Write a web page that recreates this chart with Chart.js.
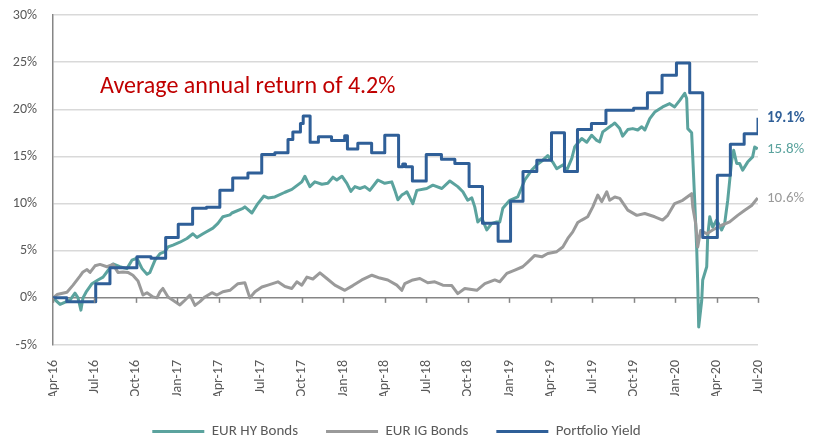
<!DOCTYPE html>
<html><head><meta charset="utf-8">
<script src="https://cdn.jsdelivr.net/npm/chart.js@4"></script>
<style>html,body{margin:0;padding:0;background:#fff}#wrap{width:817px;height:443px}</style>
</head><body><div id="wrap"><canvas id="c" width="817" height="443"></canvas></div>
<script>
// x values are months since Apr-16
const tickLabels = ['Apr-16','Jul-16','Oct-16','Jan-17','Apr-17','Jul-17','Oct-17','Jan-18','Apr-18','Jul-18','Oct-18','Jan-19','Apr-19','Jul-19','Oct-19','Jan-20','Apr-20','Jul-20'];
const seriesNames = ['EUR HY Bonds','EUR IG Bonds','Portfolio Yield'];
const endLabels = ['15.8%','10.6%','19.1%'];
const annotationText = 'Average annual return of 4.2%';

const hyX = [0,0.51,1.23,1.59,1.81,2.02,2.17,2.39,2.82,3.25,3.62,3.98,4.34,4.84,5.35,5.71,6.07,6.44,6.8,7.01,7.38,7.74,8.1,8.32,8.68,9.18,9.69,10.12,10.41,10.85,11.57,11.93,12.29,12.8,12.94,13.74,13.88,14.39,14.82,15.26,15.55,16.05,16.78,17.28,17.64,18.0,18.22,18.58,18.94,19.45,19.88,20.25,20.53,20.9,21.26,21.55,21.84,22.2,22.56,22.92,23.5,24.0,24.51,24.73,24.95,25.23,25.45,25.6,26.03,26.32,27.04,27.48,28.13,28.71,29.28,29.65,30.0,30.3,30.51,30.73,31.02,31.38,31.74,32.1,32.32,32.54,33.04,33.62,34.13,34.63,35.0,35.43,35.79,36.15,36.44,36.88,37.17,37.53,37.74,37.96,38.25,38.61,38.97,39.33,39.55,39.77,40.42,40.64,41.0,41.21,41.58,41.94,42.3,42.59,42.81,43.17,43.53,44.1,44.61,44.97,45.34,45.7,45.84,45.92,46.2,46.28,46.42,46.57,46.64,46.71,46.93,47.0,47.29,47.36,47.51,47.72,48.01,48.37,48.59,48.81,49.1,49.24,49.46,49.67,49.89,50.25,50.61,50.76,50.98];
const hyY = [0,-0.7,-0.25,0.5,0.0,-1.3,0.0,0.6,1.5,1.9,2.2,2.9,3.6,3.3,3.1,4.0,4.2,3.1,2.5,2.7,4.0,4.7,4.9,5.4,5.6,5.9,6.3,6.8,6.4,6.8,7.4,7.9,8.6,8.8,9.0,9.5,9.65,9.0,10.0,10.8,10.6,10.7,11.2,11.5,11.9,12.3,12.9,11.8,12.3,12.05,12.15,12.8,12.5,12.9,12.15,11.3,11.8,11.6,11.8,11.4,12.5,12.15,12.3,11.4,10.4,10.9,11.1,11.25,10.0,11.4,11.6,11.95,11.6,12.4,11.8,11.25,10.35,10.6,9.65,8.05,8.45,7.2,7.9,8.05,8.05,9.5,10.35,10.7,12.5,13.55,14.1,14.6,15.1,14.4,13.7,14.1,13.55,14.8,16.0,16.4,16.9,16.5,17.25,16.7,16.55,17.6,18.3,18.55,17.95,17.15,17.85,17.95,17.8,18.15,17.8,19.0,19.7,20.25,20.6,20.25,20.95,21.7,21.15,17.95,17.5,14.95,10.35,5.05,1.55,-3.1,-0.25,1.9,3.3,6.5,8.6,7.5,8.25,7.2,7.9,10.35,14.6,15.65,14.25,14.25,13.55,14.4,14.95,16.0,15.8];

const igX = [0,0.29,1.01,1.45,1.95,2.17,2.46,2.68,3.04,3.4,3.9,4.34,4.7,5.06,5.42,5.78,6.15,6.51,6.8,7.23,7.52,7.74,7.95,8.32,8.68,9.18,9.54,9.91,10.27,10.63,10.99,11.5,11.86,12.29,12.8,13.38,13.88,14.24,14.61,15.11,15.55,16.27,16.78,17.28,17.64,18.0,18.37,18.8,19.31,19.81,20.39,21.11,21.69,22.34,23.07,23.64,24.22,24.87,25.23,25.45,26.03,26.54,27.11,27.62,28.2,28.85,29.28,29.79,30.66,31.24,31.96,32.32,32.83,33.41,33.98,34.35,34.85,35.36,35.79,36.44,36.88,37.24,37.6,37.96,38.25,38.68,39.05,39.41,39.7,40.06,40.27,40.64,41.0,41.58,42.23,42.81,43.53,44.1,44.47,44.97,45.55,46.2,46.28,46.49,46.64,46.85,47.29,47.72,48.37,48.95,49.53,50.04,50.54,50.98];
const igY = [0,0.35,0.6,1.35,2.3,2.75,3.0,2.7,3.4,3.55,3.3,3.55,2.7,2.75,2.7,2.4,1.8,0.3,0.55,0.1,0.0,0.65,1.0,0.1,-0.25,-0.75,-0.25,0.3,-0.8,-0.4,0.1,0.55,0.3,0.65,0.8,1.5,1.6,0.0,0.65,1.15,1.35,1.7,1.2,1.0,1.7,1.35,2.2,2.0,2.65,2.05,1.35,0.8,1.3,1.9,2.4,2.1,1.9,1.35,0.8,1.5,1.9,2.05,1.6,1.7,1.35,1.3,0.45,1.0,0.8,1.5,1.9,1.7,2.6,2.95,3.3,3.8,4.5,4.35,4.7,4.9,5.4,6.3,7.0,8.0,8.25,8.6,9.65,10.9,10.2,11.25,10.35,10.7,10.55,9.3,8.75,8.95,8.6,8.25,8.75,10.0,10.35,11.05,9.65,7.9,5.4,7.15,6.8,7.2,7.7,8.05,8.75,9.3,9.8,10.6];

// Portfolio yield: each entry starts a new level
const pyX = [0,1.0,3.09,4.12,6.07,7.09,8.15,9.06,10.1,11.1,12.07,13.0,14.1,15.1,16.05,17.0,17.35,17.9,18.1,18.6,19.2,20.15,21.1,21.3,22.05,23.05,24.0,25.0,25.3,25.5,26.0,27.0,28.1,29.07,30.1,31.07,32.2,33.1,34.0,35.0,36.06,37.0,37.94,38.95,40.0,42.0,43.0,44.06,45.1,46.06,47.0,48.06,49.0,50.0,51.0];
const pyY = [0,-0.4,1.5,3.2,4.35,4.2,6.4,7.8,9.5,9.6,11.4,12.7,13.25,15.2,15.4,16.8,17.6,18.5,19.3,16.5,17.1,16.7,17.2,15.8,16.4,15.4,17.25,13.9,14.2,13.9,12.4,15.2,14.7,14.25,11.8,7.9,6.0,10.25,13.4,14.6,17.5,13.4,17.85,18.5,19.9,20.1,21.75,23.6,24.9,21.75,6.4,13.0,16.3,17.4,19.1];

const colors = ['#5ba39e','#9a9a9a','#2f5f98'];
const pts = (xs, ys) => xs.map((x, i) => ({x: x, y: ys[i]}));

const fontFam = 'Carlito, Lato, "Open Sans", sans-serif';

const extrasPlugin = {
  id: 'extras',
  afterDatasetsDraw(chart) {
    const ctx = chart.ctx, xs = chart.scales.x, ys = chart.scales.y, ca = chart.chartArea;
    ctx.save();
    // ticks on the zero line
    const y0 = ys.getPixelForValue(0);
    ctx.strokeStyle = '#868686'; ctx.lineWidth = 1.5;
    xs.ticks.forEach(t => {
      const px = Math.round(xs.getPixelForValue(t.value)) + 0.5;
      ctx.beginPath(); ctx.moveTo(px, y0); ctx.lineTo(px, y0 + 5); ctx.stroke();
    });
    // end labels
    chart.data.datasets.forEach((ds, i) => {
      const meta = chart.getDatasetMeta(i);
      const last = meta.data[meta.data.length - 1];
      ctx.fillStyle = colors[i];
      ctx.font = (i === 2 ? 'bold ' : '') + '15px ' + fontFam;
      ctx.textAlign = 'left'; ctx.textBaseline = 'middle';
      ctx.fillText(endLabels[i], ca.right + 9, last.y);
    });
    // annotation
    ctx.fillStyle = '#c00000';
    ctx.font = '24px ' + fontFam;
    ctx.textAlign = 'left'; ctx.textBaseline = 'middle';
    ctx.fillText(annotationText, xs.getPixelForValue(3.4), ys.getPixelForValue(22.4));
    ctx.restore();
  }
};

new Chart(document.getElementById('c'), {
  type: 'line',
  data: {
    datasets: seriesNames.map((name, i) => ({
      label: name,
      data: i === 0 ? pts(hyX, hyY) : i === 1 ? pts(igX, igY) : pts(pyX, pyY),
      borderColor: colors[i],
      backgroundColor: colors[i],
      borderWidth: 3,
      pointRadius: 0,
      tension: 0,
      stepped: i === 2 ? 'before' : false,
      order: 2 - i,
      borderJoinStyle: 'round'
    }))
  },
  options: {
    responsive: false,
    animation: false,
    layout: { padding: { left: 0, top: 15, right: 24, bottom: 2 } },
    plugins: {
      tooltip: { enabled: false },
      legend: {
        position: 'bottom',
        maxHeight: 45,
        labels: {
          boxWidth: 52, boxHeight: 3, padding: 28,
          color: '#595959',
          font: { size: 15, family: fontFam },
          sort: (a, b) => a.datasetIndex - b.datasetIndex,
          generateLabels(chart) {
            return chart.data.datasets.map((ds, i) => ({
              text: ds.label, fillStyle: colors[i], strokeStyle: colors[i], lineWidth: 0,
              datasetIndex: i, fontColor: '#595959'
            }));
          }
        }
      }
    },
    scales: {
      x: {
        type: 'linear', min: 0, max: 51,
        grid: { display: false },
        border: { display: false },
        afterBuildTicks(scale) { scale.ticks = tickLabels.map((l, i) => ({ value: i * 3 })); },
        afterFit(scale) { scale.height = 51; scale.paddingRight = 0; },
        ticks: {
          autoSkip: false, maxRotation: 90, minRotation: 90, padding: 7,
          color: '#595959', font: { size: 14, family: fontFam },
          callback: (v) => tickLabels[Math.round(v / 3)]
        }
      },
      y: {
        min: -5, max: 30,
        afterFit(scale) { scale.width = 53; },
        border: { display: true, color: '#868686', width: 1.5 },
        grid: {
          drawTicks: true, tickLength: 16, tickColor: 'rgba(0,0,0,0)',
          color: (c) => c.tick && c.tick.value === 0 ? '#868686' : '#d9d9d9',
          lineWidth: 1.5
        },
        ticks: {
          stepSize: 5, padding: 0, color: '#595959',
          font: { size: 14, family: fontFam },
          callback: (v) => v + '%'
        }
      },
      yRight: {
        position: 'right', min: -5, max: 30,
        afterFit(scale) { scale.width = 35; },
        grid: { display: false, drawTicks: false },
        border: { display: false },
        ticks: { display: false }
      }
    }
  },
  plugins: [extrasPlugin]
});
</script></body></html>
